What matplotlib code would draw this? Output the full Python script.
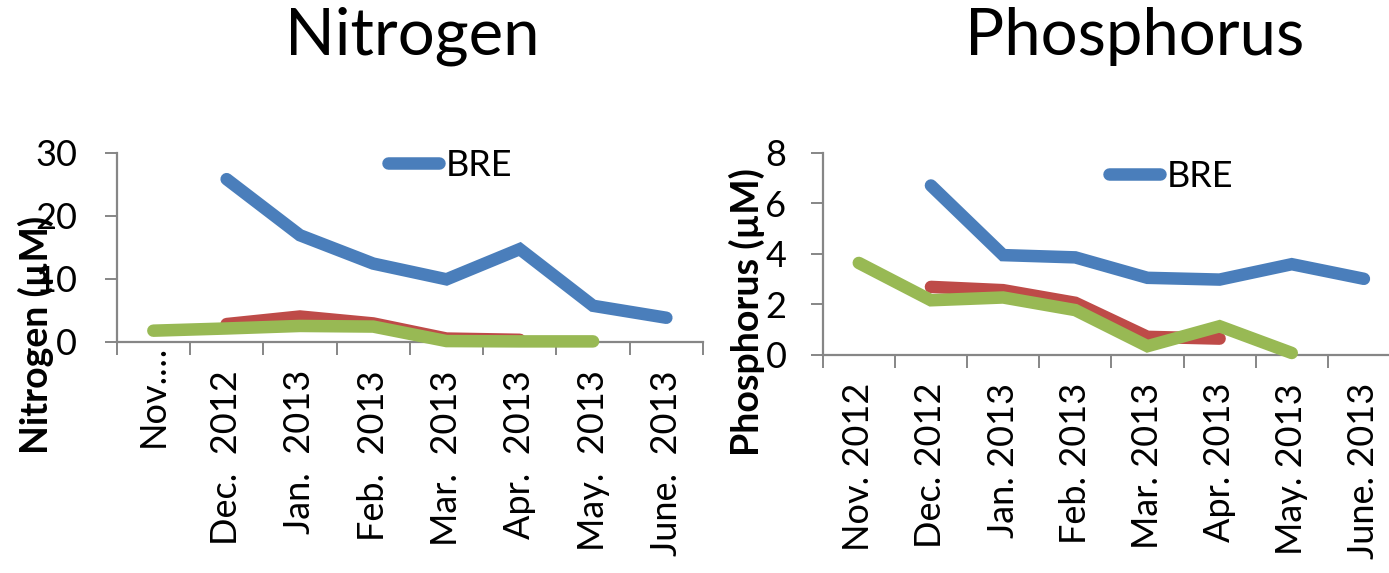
import numpy as np
import matplotlib
matplotlib.use("Agg")
import matplotlib.pyplot as plt
from matplotlib.lines import Line2D

plt.rcParams['font.family'] = ['Lato', 'DejaVu Sans']

# ---- data -------------------------------------------------------------
months_n = ["Nov.…", "Dec.  2012", "Jan.  2013", "Feb.  2013", "Mar.  2013",
            "Apr.  2013", "May.  2013", "June.  2013"]
months_p = ["Nov. 2012", "Dec. 2012", "Jan. 2013", "Feb. 2013", "Mar. 2013",
            "Apr. 2013", "May. 2013", "June. 2013"]

nan = np.nan
# Nitrogen (µM)
n_bre = [nan, 25.8, 16.9, 12.4, 9.9, 14.7, 5.7, 3.8]
n_red = [nan, 2.8, 4.0, 2.9, 0.5, 0.3, nan, nan]
n_green = [1.75, 2.1, 2.5, 2.4, 0.1, 0.05, 0.05, nan]

# Phosphorus (µM)
p_bre = [nan, 6.7, 3.94, 3.85, 3.04, 2.97, 3.58, 3.0]
p_red = [nan, 2.68, 2.55, 2.05, 0.7, 0.63, nan, nan]
p_green = [3.63, 2.15, 2.26, 1.76, 0.33, 1.12, 0.06, nan]

n_ticks = [0, 10, 20, 30]
p_ticks = [0, 2, 4, 6, 8]

BLUE = "#4A7EBB"
RED = "#BE4B48"
GREEN = "#98B954"
AXIS = "#868686"
LW = 9
TICK_FS = 26

W, H = 1389, 573
fig = plt.figure(figsize=(W / 100, H / 100), dpi=100)


def px_axes(x0, x1, y_top, y_bottom):
    return fig.add_axes([x0 / W, 1 - y_bottom / H, (x1 - x0) / W, (y_bottom - y_top) / H])


def style_axes(ax, labels, ticks, ylim, ypad):
    n = len(labels)
    ax.set_xlim(-0.5, n - 0.5)
    ax.set_ylim(*ylim)
    for s in ("top", "right"):
        ax.spines[s].set_visible(False)
    for s in ("left", "bottom"):
        ax.spines[s].set_color(AXIS)
        ax.spines[s].set_linewidth(1.6)
    ax.set_yticks(ticks)
    ax.set_yticklabels([str(t) for t in ticks])
    ax.tick_params(axis="y", direction="out", length=8.6, width=1.4,
                   color=AXIS, labelsize=TICK_FS, pad=ypad)
    ax.set_xticks(np.arange(n))
    ax.set_xticklabels(labels, rotation=90, ha="center", va="top")
    ax.tick_params(axis="x", which="major", length=0, labelsize=TICK_FS, pad=20.5)
    ax.set_xticks(np.arange(-0.5, n), minor=True)
    ax.tick_params(axis="x", which="minor", direction="out", length=9.4,
                   width=1.4, color=AXIS)
    ax.patch.set_alpha(0)


def draw_series(ax, series):
    x = np.arange(len(series[0][0]))
    for vals, color in series:
        ax.plot(x, vals, color=color, lw=LW, solid_capstyle="round",
                solid_joinstyle="miter", clip_on=False, zorder=3)


def legend_bre(ax, x_px, y_px):
    h = Line2D([], [], color=BLUE, lw=LW, solid_capstyle="round")
    ax.legend([h], ["BRE"], loc="center left", frameon=False,
              bbox_to_anchor=(x_px / W, 1 - y_px / H),
              bbox_transform=fig.transFigure, borderpad=0, borderaxespad=0,
              handlelength=1.4, handletextpad=0.2, fontsize=26)


# ---- Nitrogen panel ---------------------------------------------------
axn = px_axes(116.7, 703.0, 152.7, 341.7)
style_axes(axn, [""] + months_n[1:], n_ticks, (0, 30), 20)
draw_series(axn, [(n_bre, BLUE), (n_red, RED), (n_green, GREEN)])
axn.annotate(months_n[0], xy=(0, 0), xycoords=axn.get_xaxis_transform(),
             xytext=(0, -2), textcoords="offset points", rotation=90,
             ha="center", va="top", fontsize=TICK_FS)
legend_bre(axn, 388, 165)

# ---- Phosphorus panel -------------------------------------------------
axp = px_axes(822.7, 1400.0, 152.7, 354.5)
style_axes(axp, months_p, p_ticks, (0, 8), 17.5)
draw_series(axp, [(p_bre, BLUE), (p_red, RED), (p_green, GREEN)])
legend_bre(axp, 1109, 176.5)

# ---- titles and axis labels ------------------------------------------
fig.text(412 / W, 1 - 55 / H, "Nitrogen", fontsize=47, ha="center", va="baseline")
fig.text(1135 / W, 1 - 55 / H, "Phosphorus", fontsize=47, ha="center", va="baseline")
fig.text(36 / W, 1 - 335 / H, "Nitrogen (µM)", fontsize=27, fontweight="bold",
         rotation=90, ha="center", va="center")
fig.text(746.5 / W, 1 - 312 / H, "Phosphorus (µM)", fontsize=27, fontweight="bold",
         rotation=90, ha="center", va="center")

fig.savefig("out.png", dpi=100, facecolor="white")
